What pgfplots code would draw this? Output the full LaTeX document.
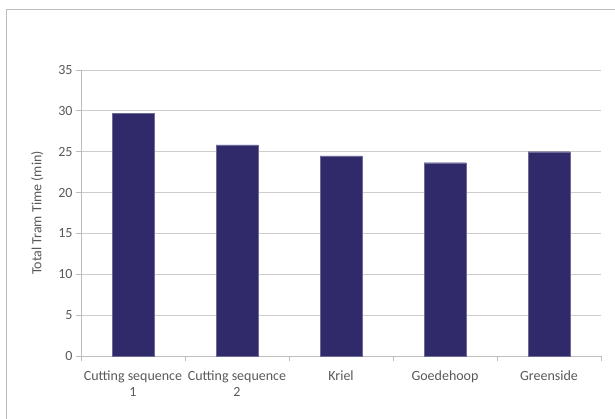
\documentclass[border=0pt]{standalone}
\usepackage{pgfplots}
\pgfplotsset{compat=1.18}
\usepackage{fontspec}
\setmainfont{Carlito}
\definecolor{barcol}{HTML}{302A6A}
\definecolor{txt}{HTML}{595959}
\definecolor{gridc}{HTML}{D0CCCC}
\definecolor{axc}{HTML}{C0BCBC}
\begin{document}
\begin{tikzpicture}[x=1pt,y=1pt]
\useasboundingbox (0,0) rectangle (615,-419);
\draw[color=axc,line width=1.5pt] (6.5,-419) -- (6.5,-9.5) -- (615,-9.5);
\begin{axis}[
  at={(81pt,-356pt)}, anchor=south west,
  scale only axis, width=520pt, height=286pt,
  xmin=-0.5, xmax=4.5, ymin=0, ymax=35,
  ytick={0,5,...,35},
  xtick={0,1,2,3,4},
  xticklabels={{Cutting sequence\\1},{Cutting sequence\\2},Kriel,Goedehoop,Greenside},
  xticklabel style={align=center, font=\fontsize{14}{16}\selectfont, text=txt, yshift=-6pt},
  minor xtick={-0.5,0.5,...,4.5},
  major x tick style={draw=none},
  minor tick length=5pt, major tick length=5pt,
  tick align=outside,
  axis x line*=bottom, axis y line*=left,
  axis line style={draw=axc, line width=0.8pt, -},
  tick style={draw=axc, line width=0.8pt},
  ymajorgrids, grid style={draw=gridc, line width=0.8pt},
  yticklabel style={font=\fontsize{14}{16}\selectfont, text=txt, /pgf/number format/assume math mode=true},
  ylabel={Total Tram Time (min)},
  ylabel style={font=\fontsize{14}{16}\selectfont, text=txt},
  ylabel shift=8pt,
  ]
\addplot[ybar, bar width=42pt, fill=barcol, draw=barcol!70!white] coordinates {(0,29.7) (1,25.85) (2,24.5) (3,23.65) (4,25.0)};
\end{axis}
\end{tikzpicture}
\end{document}
